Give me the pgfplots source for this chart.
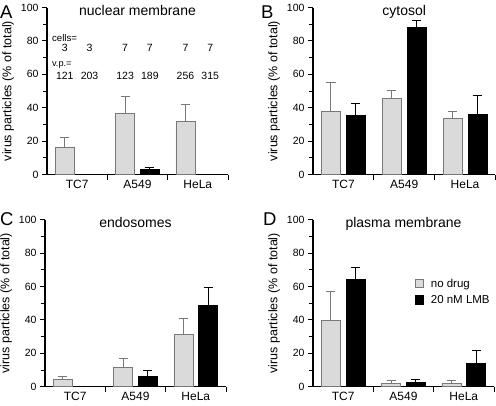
\documentclass[border=0pt]{standalone}
\usepackage{fontspec}
\setmainfont{Liberation Sans}
\usepackage{pgfplots}
\pgfplotsset{compat=1.18}
\definecolor{barfill}{RGB}{218,218,218}
\definecolor{baredge}{RGB}{120,120,120}
\tikzset{ann/.style={anchor=base, font=\fontsize{10.5}{12}\selectfont, inner sep=0pt}}
\pgfplotsset{
  panel/.style={
    scale only axis, width=181pt, height=167pt,
    xmin=0, xmax=3, ymin=0, ymax=100,
    axis lines=left,
    axis line style={line width=1.3pt, -},
    every tick/.style={line width=1pt, black},
    tick align=outside,
    major tick length=5pt, minor tick length=4pt,
    ytick={0,20,...,100}, minor ytick={10,30,...,90},
    xtick={1,2,3}, xticklabels={},
    extra x ticks={0.5,1.5,2.5},
    extra x tick labels={TC7,A549,HeLa},
    extra x tick style={major tick length=0pt},
    /pgf/number format/assume math mode=true,
    yticklabel style={font=\fontsize{10.5}{12}\selectfont},
    xticklabel style={font=\fontsize{12}{14}\selectfont, yshift=-2pt},
    ylabel={virus particles (\% of total)},
    ylabel style={font=\fontsize{12.5}{14}\selectfont},
    every axis title/.style={at={(0.5,1)}, anchor=base, yshift=-7.5pt, font=\fontsize{14}{16}\selectfont},
    clip=false,
    ybar, bar width=19pt, bar shift=0pt,
  },
  nodrug/.style={fill=barfill, draw=baredge, line width=0.8pt,
    error bars/.cd, y dir=plus, y explicit,
    error bar style={baredge, line width=0.9pt},
    error mark options={baredge, rotate=90, mark size=4.6pt, line width=0.9pt},
    /pgfplots/.cd,
    legend image code/.code={\draw[fill=barfill, draw=baredge, line width=0.8pt] (0pt,-4pt) rectangle (8.5pt,4.5pt);}},
  lmb/.style={fill=black, draw=black, line width=0.8pt,
    error bars/.cd, y dir=plus, y explicit,
    error bar style={black, line width=0.9pt},
    error mark options={black, rotate=90, mark size=4.6pt, line width=0.9pt},
    /pgfplots/.cd,
    legend image code/.code={\draw[fill=black, draw=black, line width=0.8pt] (0pt,-4.5pt) rectangle (8.5pt,4.5pt);}},
}
\begin{document}
\begin{tikzpicture}
\path[use as bounding box] (0,0) rectangle (496pt,-405pt);

% ---------- A ----------
\begin{axis}[panel, at={(47pt,-174.5pt)}, anchor=south west, title={nuclear membrane}]
\addplot[nodrug] table[x=x, y=y, y error=e] {
x y e
0.295 16.5 5.5
1.295 36.5 10.5
2.295 31.5 10.5
};
\addplot[lmb] table[x=x, y=y, y error=e] {
x y e
1.705 3.2 1.3
};
\node[anchor=base west, font=\fontsize{9.7}{11}\selectfont, inner sep=0pt] at (axis cs:0.08,79.7) {cells=};
\node[anchor=base west, font=\fontsize{9.2}{11}\selectfont, inner sep=0pt] at (axis cs:0.08,64.7) {v.p.=};
\node[ann] at (axis cs:0.295,73.4) {3};
\node[ann] at (axis cs:0.705,73.4) {3};
\node[ann] at (axis cs:1.295,73.4) {7};
\node[ann] at (axis cs:1.705,73.4) {7};
\node[ann] at (axis cs:2.295,73.4) {7};
\node[ann] at (axis cs:2.705,73.4) {7};
\node[ann] at (axis cs:0.295,56.6) {121};
\node[ann] at (axis cs:0.705,56.6) {203};
\node[ann] at (axis cs:1.295,56.6) {123};
\node[ann] at (axis cs:1.705,56.6) {189};
\node[ann] at (axis cs:2.295,56.6) {256};
\node[ann] at (axis cs:2.705,56.6) {315};
\end{axis}

% ---------- B ----------
\begin{axis}[panel, width=182.5pt, at={(313pt,-174.5pt)}, anchor=south west, title={cytosol}]
\addplot[nodrug] table[x=x, y=y, y error=e] {
x y e
0.295 37.9 17.5
1.295 45.6 4.6
2.295 33.5 4.4
};
\addplot[lmb] table[x=x, y=y, y error=e] {
x y e
0.705 35.3 7.2
1.705 88.3 4.0
2.705 36.1 11.3
};
\end{axis}

% ---------- C ----------
\begin{axis}[panel, at={(45pt,-386.7pt)}, anchor=south west, title={endosomes}]
\addplot[nodrug] table[x=x, y=y, y error=e] {
x y e
0.295 4.4 1.9
1.295 11.7 5.3
2.295 31.3 9.5
};
\addplot[lmb] table[x=x, y=y, y error=e] {
x y e
1.705 6.1 3.6
2.705 48.9 10.3
};
\end{axis}

% ---------- D ----------
\begin{axis}[panel, at={(313pt,-386.7pt)}, anchor=south west, title={plasma membrane},
  legend style={draw=none, fill=none, at={(0.56,0.66)}, anchor=north west,
    font=\fontsize{11.5}{13}\selectfont, inner sep=0pt, row sep=3pt,
    column sep=5pt, nodes={inner sep=2pt}},
  legend cell align=left]
\addplot[nodrug] table[x=x, y=y, y error=e] {
x y e
0.295 39.8 17.0
1.295 2.2 1.8
2.295 2.2 1.8
};
\addplot[lmb] table[x=x, y=y, y error=e] {
x y e
0.705 64.4 6.9
1.705 2.8 1.8
2.705 13.7 8.3
};
\legend{no drug, 20 nM LMB}
\end{axis}

% panel letters
\node[anchor=base west, inner sep=0pt, font=\fontsize{18.5}{20}\selectfont] at (0pt,-18pt) {A};
\node[anchor=base west, inner sep=0pt, font=\fontsize{18.5}{20}\selectfont] at (261pt,-18pt) {B};
\node[anchor=base west, inner sep=0pt, font=\fontsize{18.5}{20}\selectfont] at (0pt,-225pt) {C};
\node[anchor=base west, inner sep=0pt, font=\fontsize{18.5}{20}\selectfont] at (263pt,-225pt) {D};
\end{tikzpicture}
\end{document}
